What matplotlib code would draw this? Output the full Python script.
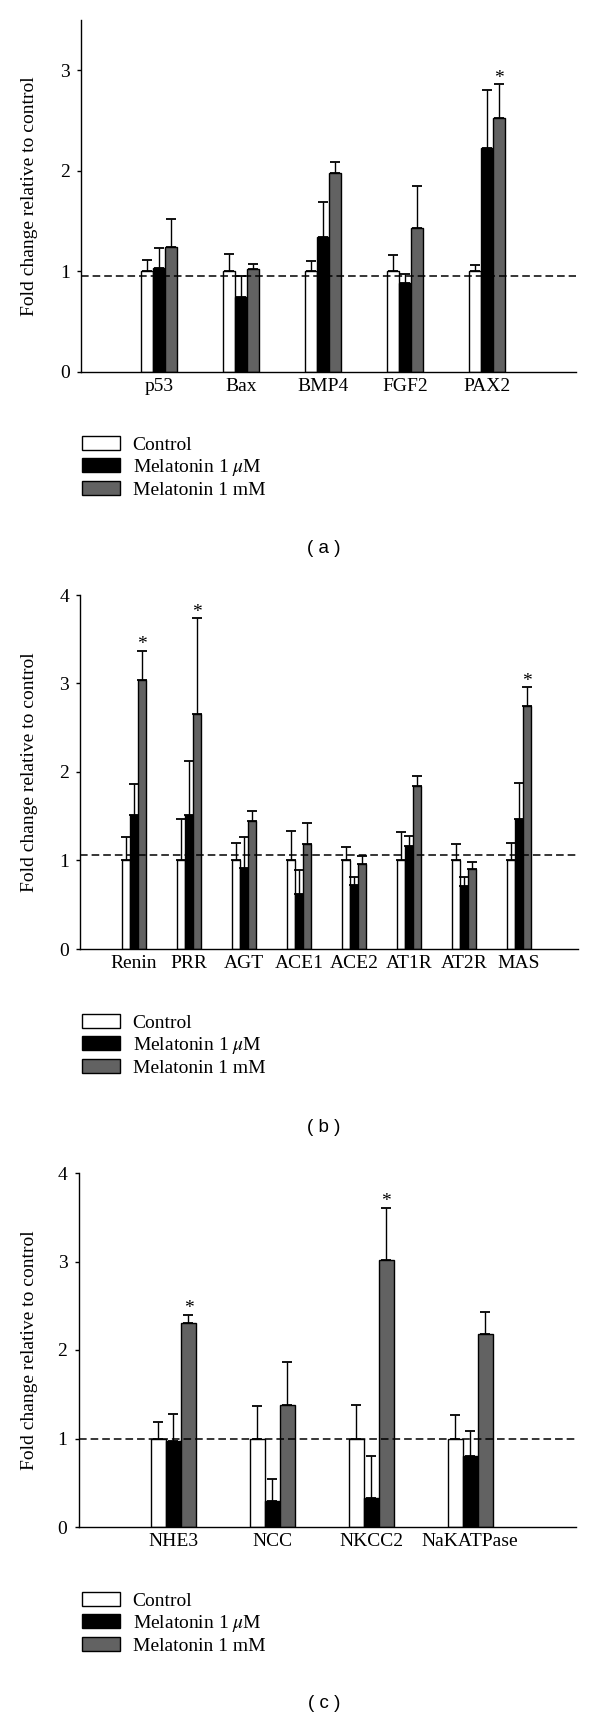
import matplotlib
matplotlib.use("Agg")
import matplotlib.pyplot as plt
import numpy as np

plt.rcParams['font.family'] = ['Liberation Serif', 'DejaVu Serif']
plt.rcParams['mathtext.fontset'] = 'stix'

# ---------------- data ----------------
series_labels = ['Control', 'Melatonin 1 $\\mu$M', 'Melatonin 1 mM']

genes_a = ['p53', 'Bax', 'BMP4', 'FGF2', 'PAX2']
ctrl_a = [1.0, 1.0, 1.0, 1.0, 1.0]
ctrl_err_a = [0.11, 0.17, 0.10, 0.16, 0.06]
um_a = [1.03, 0.75, 1.34, 0.88, 2.23]
um_err_a = [0.20, 0.20, 0.35, 0.09, 0.57]
mm_a = [1.24, 1.02, 1.98, 1.43, 2.53]
mm_err_a = [0.28, 0.05, 0.11, 0.42, 0.33]
sig_a = [False, False, False, False, True]
ref_a = 0.95

genes_b = ['Renin', 'PRR', 'AGT', 'ACE1', 'ACE2', 'AT1R', 'AT2R', 'MAS']
ctrl_b = [1.0, 1.0, 1.0, 1.0, 1.0, 1.0, 1.0, 1.0]
ctrl_err_b = [0.27, 0.47, 0.20, 0.33, 0.15, 0.32, 0.19, 0.20]
um_b = [1.51, 1.51, 0.92, 0.62, 0.72, 1.16, 0.71, 1.47]
um_err_b = [0.36, 0.61, 0.35, 0.27, 0.09, 0.12, 0.10, 0.41]
mm_b = [3.04, 2.65, 1.45, 1.19, 0.96, 1.84, 0.90, 2.75]
mm_err_b = [0.33, 1.09, 0.11, 0.23, 0.09, 0.12, 0.08, 0.21]
sig_b = [True, True, False, False, False, False, False, True]
ref_b = 1.06

genes_c = ['NHE3', 'NCC', 'NKCC2', 'NaKATPase']
ctrl_c = [1.0, 1.0, 1.0, 1.0]
ctrl_err_c = [0.19, 0.37, 0.38, 0.26]
um_c = [0.97, 0.29, 0.33, 0.80]
um_err_c = [0.31, 0.25, 0.47, 0.29]
mm_c = [2.30, 1.38, 3.02, 2.18]
mm_err_c = [0.10, 0.48, 0.59, 0.25]
sig_c = [True, False, True, False]
ref_c = 1.0

colors = ['white', 'black', '#626262']

W, H = 600, 1719
fig = plt.figure(figsize=(W / 100, H / 100), dpi=100)


def px_axes(left, right, top, bottom):
    return fig.add_axes([left / W, 1 - bottom / H, (right - left) / W, (bottom - top) / H])


panels = [
    dict(genes=genes_a, data=[(ctrl_a, ctrl_err_a), (um_a, um_err_a), (mm_a, mm_err_a)],
         sig=sig_a, ref=ref_a, box=(81, 576, 20, 372), ylim=3.5, yticks=[0, 1, 2, 3],
         xlim=(-0.95, 5.085), width=0.148, leg_top=436, tag='( a )', tag_y=548),
    dict(genes=genes_b, data=[(ctrl_b, ctrl_err_b), (um_b, um_err_b), (mm_b, mm_err_b)],
         sig=sig_b, ref=ref_b, box=(80, 578, 595, 949), ylim=4.0, yticks=[0, 1, 2, 3, 4],
         xlim=(-0.98, 8.07), width=0.148, leg_top=1014, tag='( b )', tag_y=1127),
    dict(genes=genes_c, data=[(ctrl_c, ctrl_err_c), (um_c, um_err_c), (mm_c, mm_err_c)],
         sig=sig_c, ref=ref_c, box=(78.5, 576, 1173, 1527), ylim=4.0, yticks=[0, 1, 2, 3, 4],
         xlim=(-0.96, 4.07), width=0.152, leg_top=1592, tag='( c )', tag_y=1703),
]

for p in panels:
    l, r, t, b = p['box']
    ax = px_axes(l, r, t, b)
    x = np.arange(len(p['genes']))
    w = p['width']
    handles = []
    for i, ((vals, errs), col) in enumerate(zip(p['data'], colors)):
        xs = x + (i - 1) * w
        bars = ax.bar(xs, vals, width=w, color=col, edgecolor='black', linewidth=1.0,
                      label=series_labels[i], zorder=2)
        handles.append(bars)
        ax.errorbar(xs, vals, yerr=[np.zeros(len(vals)), errs], fmt='none', ecolor='black',
                    elinewidth=1.0, capsize=3.8, capthick=1.3, zorder=3)
        if i == 2:
            for xi, v, e, s in zip(xs, vals, errs, p['sig']):
                if s:
                    ax.annotate('*', xy=(xi, v + e), xytext=(0, 1), textcoords='offset points',
                                ha='center', va='baseline', fontsize=14)
    ax.axhline(p['ref'], color='black', lw=1.1, ls=(0, (5.0, 2.6)), zorder=4)
    ax.set_xlim(*p['xlim'])
    ax.set_ylim(0, p['ylim'])
    ax.set_yticks(p['yticks'])
    ax.set_xticks(x)
    ax.set_xticklabels(p['genes'])
    ax.spines['top'].set_visible(False)
    ax.spines['right'].set_visible(False)
    ax.spines['left'].set_linewidth(1.0)
    ax.spines['bottom'].set_linewidth(1.0)
    ax.tick_params(axis='x', length=0, pad=4, labelsize=14)
    ax.tick_params(axis='y', direction='out', length=3, width=1.0, pad=5, labelsize=14)
    ax.set_ylabel('Fold change relative to control', fontsize=14)
    ax.yaxis.set_label_coords((38 - l) / (r - l), 0.5)

    fig.legend(handles=handles, labels=series_labels, loc='upper left',
               bbox_to_anchor=(82 / W, 1 - p['leg_top'] / H), frameon=False,
               fontsize=14, handlelength=1.95, handleheight=0.77, handletextpad=0.65,
               labelspacing=0.15, borderpad=0, borderaxespad=0)
    fig.text(324 / W, 1 - p['tag_y'] / H, p['tag'], ha='center', va='center',
             fontsize=13.5, family=['Liberation Sans', 'DejaVu Sans'])

fig.savefig('out.png', dpi=100)
